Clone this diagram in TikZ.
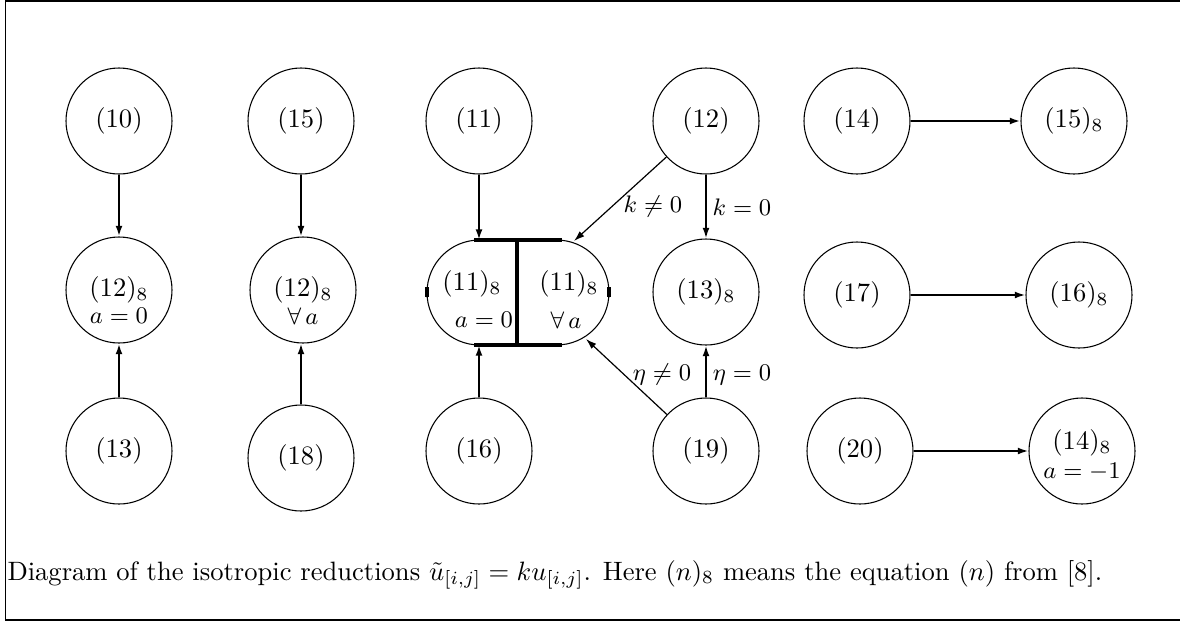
\documentclass[tikz,border=0pt]{standalone}
\usetikzlibrary{arrows.meta,shapes.misc}
\begin{document}
\begin{tikzpicture}[x=0.3764pt, y=-0.3764pt,
		eqn/.style={draw, circle, line width=0.4pt, minimum size=39.9pt, inner sep=0pt},
		lbl/.style={font=\small, inner sep=1pt},
		arr/.style={-{Latex[length=4pt,width=2.6pt]}, line width=0.7pt},
		bold/.style={arr, line width=1.1pt},
		slim/.style={arr, line width=0.45pt},
		bar/.style={line width=1.2pt}]

		\useasboundingbox (0,0) rectangle (1180,622);
		\draw[line width=0.6pt] (1180,1) -- (5.5,1) -- (5.5,620) -- (1180,620);

		% top row
		\node[eqn] (e10) at (119,121) {$(10)$};
		\node[eqn] (e15) at (301,121) {$(15)$};
		\node[eqn] (e11) at (479,121) {$(11)$};
		\node[eqn] (e12) at (706,121) {$(12)$};
		\node[eqn] (e14) at (857,121) {$(14)$};
		\node[eqn] (e15b) at (1074,121) {$(15)_8$};

		% middle row
		\node[eqn] (e12a) at (119,290) {$(12)_8$};
		\node[lbl] (s12a) at (119,316) {$a=0$};
		\node[eqn] (e12b) at (303,290) {$(12)_8$};
		\node[lbl] (s12b) at (303,316) {$\forall\, a$};
		\node[draw, rounded rectangle, line width=0.4pt, minimum width=68.5pt, minimum height=39.5pt, inner sep=0pt] (c11) at (518,292.5) {};
		\node (c11l) at (472,284) {$(11)_8$};
		\node[lbl] (s11l) at (484,320) {$a=0$};
		\node (c11r) at (569,284) {$(11)_8$};
		\node[lbl] (s11r) at (566,320) {$\forall\, a$};
		\node[eqn] (e13b) at (706,292) {$(13)_8$};
		\node[eqn] (e17) at (857,295) {$(17)$};
		\node[eqn] (e16b) at (1079,295) {$(16)_8$};

		% bottom row
		\node[eqn] (e13) at (119,451) {$(13)$};
		\node[eqn] (e18) at (301,458) {$(18)$};
		\node[eqn] (e16) at (479,451) {$(16)$};
		\node[eqn] (e19) at (706,451) {$(19)$};
		\node[eqn] (e20) at (860,451) {$(20)$};
		\node[eqn, text depth=9pt] (e14b) at (1082,451) {$(14)_8$};
		\node[lbl] (s14b) at (1082,472) {$a=-1$};

		% split box
		\draw[bar] (474,240) -- (562,240);
		\draw[bar] (474,345) -- (562,345);
		\draw[bar] (517,240) -- (517,345);
		\draw[bar] (427,287) -- (427,297);
		\draw[bar] (609,287) -- (609,297);
		\coordinate (ctop) at (479,240);
		\coordinate (cbot) at (479,345);
		\coordinate (cne) at (574,241);
		\coordinate (cse) at (586,339);

		\draw[bold] (e10) -- (e12a);
		\draw[bold] (e13) -- (e12a);
		\draw[arr] (e15) -- (e15 |- e12b.north);
		\draw[arr] (e18) -- (e18 |- e12b.south);
		\draw[bold] (e11) -- (ctop);
		\draw[bold] (e16) -- (cbot);
		\draw[slim] (e12) -- (cne);
		\draw[slim] (e19) -- (cse);
		\draw[arr] (e12) -- (e13b);
		\draw[arr] (e19) -- (e13b);
		\draw[bold] (e14) -- (e15b);
		\draw[arr] (e17) -- (e16b);
		\draw[arr] (e20) -- (e14b);

		\node[lbl] (lk1) at (653,207) {$k\neq0$};
		\node[lbl] (lk0) at (742,207) {$k=0$};
		\node[lbl] (le1) at (662,375) {$\eta\neq0$};
		\node[lbl] (le0) at (742,375) {$\eta=0$};

		\node[anchor=base west, inner sep=0pt] (cap) at (7,580) {Diagram of the isotropic reductions $\tilde u_{[i,j]}=ku_{[i,j]}$. Here $(n)_8$ means the equation $(n)$ from [8].};

	\end{tikzpicture}
\end{document}
